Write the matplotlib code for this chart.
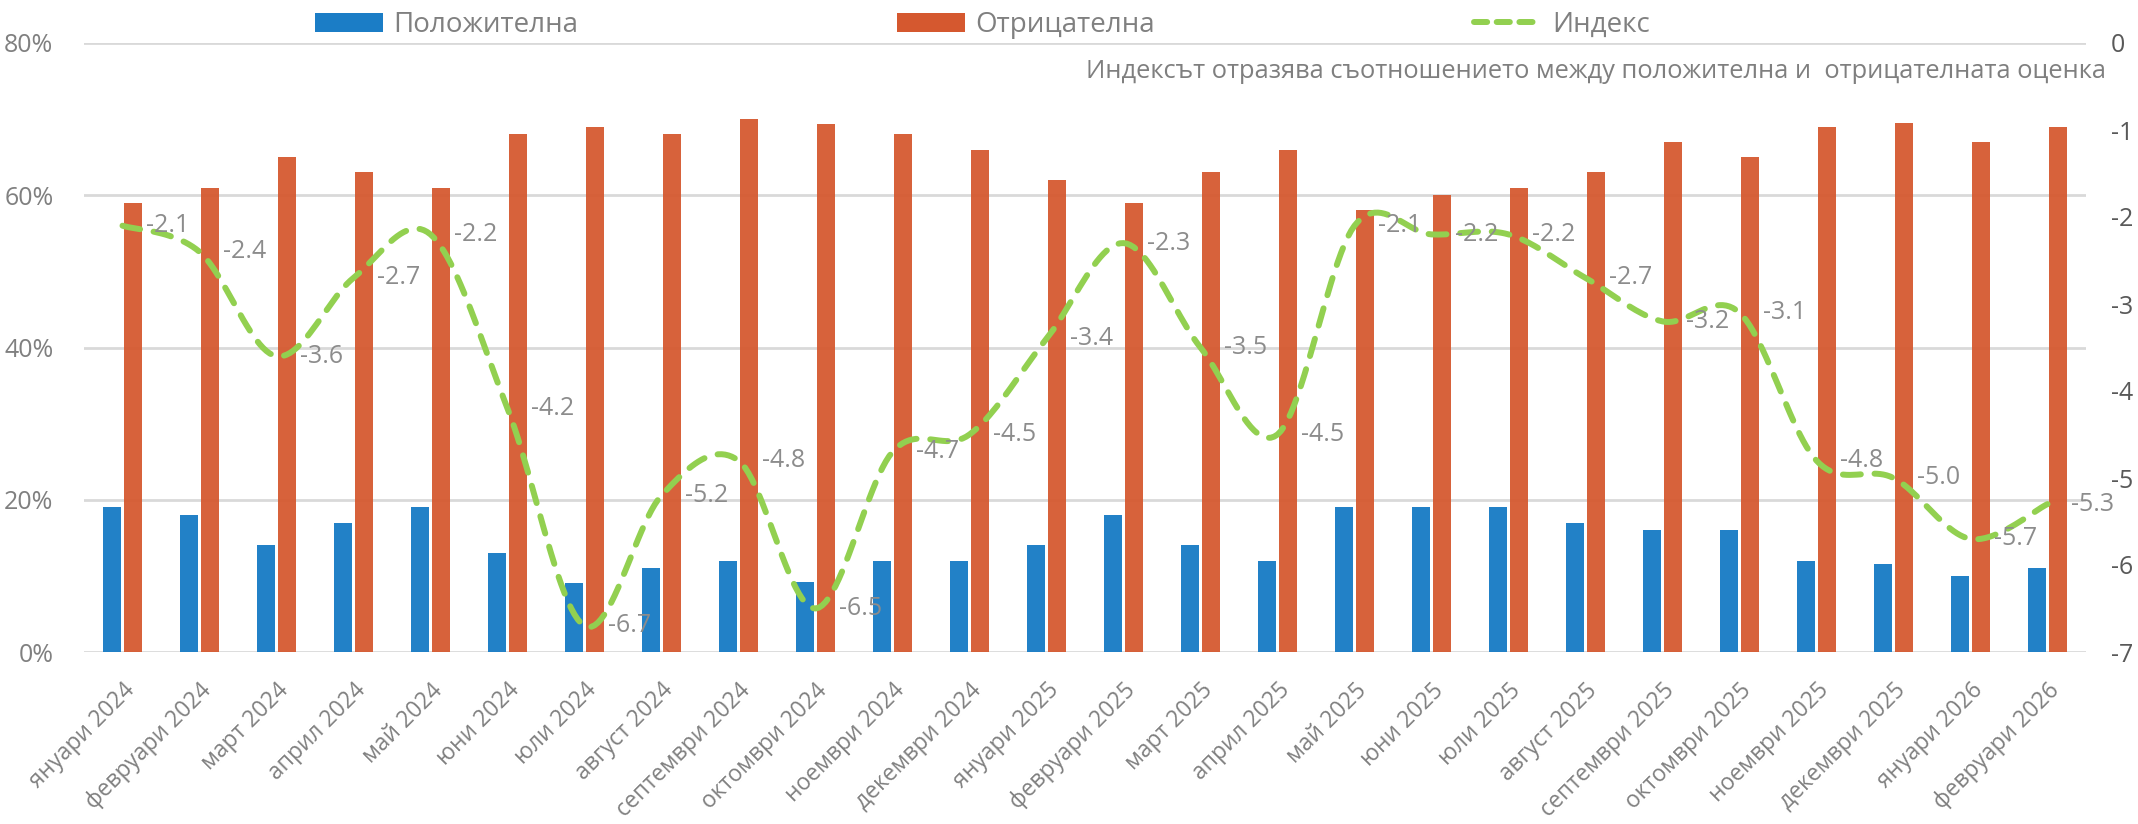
import numpy as np
import matplotlib
matplotlib.use("Agg")
import matplotlib.pyplot as plt
from matplotlib.ticker import FuncFormatter
from matplotlib.lines import Line2D
from matplotlib.patches import Patch

plt.rcParams["font.family"] = ["Open Sans", "DejaVu Sans"]

months = ["януари 2024", "февруари 2024", "март 2024", "април 2024", "май 2024",
          "юни 2024", "юли 2024", "август 2024", "септември 2024", "октомври 2024",
          "ноември 2024", "декември 2024", "януари 2025", "февруари 2025", "март 2025",
          "април 2025", "май 2025", "юни 2025", "юли 2025", "август 2025",
          "септември 2025", "октомври 2025", "ноември 2025", "декември 2025",
          "януари 2026", "февруари 2026"]
positive = [19, 18, 14, 17, 19, 13, 9, 11, 12, 9.2, 12, 12, 14, 18, 14, 12, 19, 19,
            19, 17, 16, 16, 12, 11.5, 10, 11]
negative = [59, 61, 65, 63, 61, 68, 69, 68, 70, 69.3, 68, 66, 62, 59, 63, 66, 58, 60,
            61, 63, 67, 65, 69, 69.5, 67, 69]
index = [-2.1, -2.4, -3.6, -2.7, -2.2, -4.2, -6.7, -5.2, -4.8, -6.5, -4.7, -4.5, -3.4,
         -2.3, -3.5, -4.5, -2.1, -2.2, -2.2, -2.7, -3.2, -3.1, -4.8, -5.0, -5.7, -5.3]
left_ticks = [0, 20, 40, 60, 80]
right_ticks = [0, -1, -2, -3, -4, -5, -6, -7]
note = "Индексът отразява съотношението между положителна и  отрицателната оценка"

c_blue = "#1B7DC6"
c_orange = "#D5582F"
c_green = "#92D050"
c_grid = "#D9D9D9"
c_text = "#808080"


def smooth(xs, ys, n=24):
    # Excel-style smoothed line (Catmull-Rom via cubic Bezier)
    xs = np.asarray(xs, float)
    ys = np.asarray(ys, float)
    px, py = [], []
    t = np.linspace(0, 1, n)
    for i in range(len(xs) - 1):
        i0 = max(i - 1, 0)
        i3 = min(i + 2, len(xs) - 1)
        for arr, out in ((xs, px), (ys, py)):
            p0, p1, p2, p3 = arr[i0], arr[i], arr[i + 1], arr[i3]
            c1 = p1 + (p2 - p0) / 6
            c2 = p2 - (p3 - p1) / 6
            b = ((1 - t) ** 3 * p1 + 3 * (1 - t) ** 2 * t * c1
                 + 3 * (1 - t) * t ** 2 * c2 + t ** 3 * p2)
            out.extend(b if i == 0 else b[1:])
    return np.array(px), np.array(py)


fig = plt.figure(figsize=(21.38, 8.24), dpi=100)
ax = fig.add_axes([84 / 2138, 1 - 652 / 824, (2086 - 84) / 2138, (652 - 43) / 824])

x = np.arange(len(months))
width = 0.24
ax.bar(x - 0.136, positive, width, color=c_blue, alpha=0.97, zorder=2)
ax.bar(x + 0.136, negative, width, color=c_orange, alpha=0.94, zorder=2)

ax.set_xlim(-0.5, len(months) - 0.5)
ax.set_ylim(0, 80)
ax.set_yticks(left_ticks)
ax.yaxis.set_major_formatter(FuncFormatter(lambda v, p: "%d%%" % v))
ax.grid(axis="y", color=c_grid, linewidth=2, zorder=0)
ax.set_axisbelow(True)
for s in ax.spines.values():
    s.set_visible(False)
ax.tick_params(axis="both", length=0, labelsize=18, labelcolor=c_text)
ax.tick_params(axis="y", pad=22)
ax.set_xticks(x)
ax.set_xticklabels(months, rotation=45, ha="right", rotation_mode="anchor",
                   fontsize=16.5)
ax.tick_params(axis="x", pad=19)

ax2 = ax.twinx()
ax2.set_ylim(-7, 0)
ax2.set_yticks(right_ticks)
ax2.set_yticklabels([str(v) for v in right_ticks])
for s in ax2.spines.values():
    s.set_visible(False)
ax2.tick_params(axis="y", length=0, labelsize=18, labelcolor="#595959", pad=18)

sx, sy = smooth(x, index)
ax2.plot(sx, sy, color=c_green, linewidth=4.3, linestyle=(0, (3.0, 2.3)),
         dash_capstyle="round", zorder=3)
for xi, v in zip(x, index):
    ax2.annotate("%.1f" % v, (xi, v), xytext=(17, 0), textcoords="offset points",
                 ha="left", va="center", fontsize=18, color="#8C8C8C",
                 annotation_clip=False, zorder=4)

fig.text(2106 / 2138, 1 - 71 / 824, note, ha="right", va="center",
         fontsize=18.4, color="#7F7F7F")

handles = [Patch(facecolor=c_blue), Patch(facecolor=c_orange),
           Line2D([0], [0], color=c_green, linewidth=4.3, linestyle=(0, (2.2, 1.6)),
                  dash_capstyle="round")]
fig.legend(handles, ["Положителна", "Отрицателна", "Индекс"], ncol=3,
           loc="center left", bbox_to_anchor=(315 / 2138, 1 - 25 / 824),
           frameon=False, fontsize=20, labelcolor=c_text, handlelength=2.45,
           handleheight=0.7, handletextpad=0.35, columnspacing=11.5,
           borderpad=0, borderaxespad=0)

plt.savefig("out.png", dpi=100)
